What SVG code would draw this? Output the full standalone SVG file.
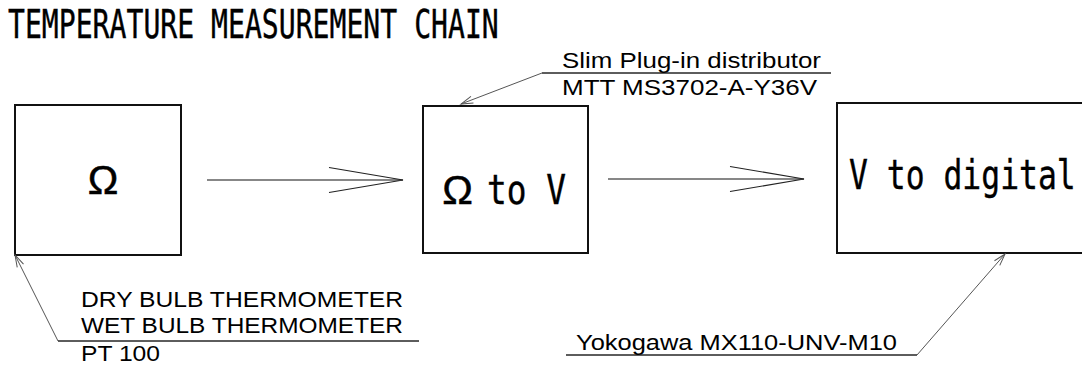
<svg xmlns="http://www.w3.org/2000/svg" width="1082" height="367" viewBox="0 0 1082 367">
<style>
.box{fill:#fff;stroke:#111;stroke-width:2}
.flow{stroke:#111;stroke-width:1.2;fill:none}
.lead{stroke:#555;stroke-width:1;fill:none}
.uline{stroke:#111;stroke-width:1.2}
.mono{font-family:"DejaVu Sans Mono","Liberation Mono",monospace;fill:#000;stroke:#000;stroke-width:0.4}
.sans{font-family:"Liberation Sans",Arial,sans-serif;fill:#000;stroke:#000;stroke-width:0.5}
.lbl{font-family:"Liberation Sans",Arial,sans-serif;font-size:22px;fill:#000}
</style>
<defs>
<marker id="big" markerUnits="userSpaceOnUse" markerWidth="80" markerHeight="30" refX="74" refY="12.5" orient="auto" overflow="visible">
<path d="M0,0 L74,12.5 L0,25" fill="none" stroke="#222" stroke-width="1.2"/>
</marker>
<marker id="small" markerUnits="userSpaceOnUse" markerWidth="14" markerHeight="8" refX="12" refY="4" orient="auto" overflow="visible">
<path d="M0,0.5 L12,4 L0,7.5" fill="none" stroke="#555" stroke-width="1"/>
</marker>
</defs>
<text class="mono" transform="translate(8,38) scale(0.721,1)" x="0" y="0" font-size="39">TEMPERATURE MEASUREMENT CHAIN</text>
<g id="node-ohm">
<rect class="box" x="15" y="105" width="166" height="150"/>
<text class="sans" x="103" y="194" font-size="41" text-anchor="middle">Ω</text>
</g>
<g id="node-ohm-to-v">
<rect class="box" x="423" y="106" width="165" height="147"/>
<text class="sans" x="457.5" y="204" font-size="41" text-anchor="middle">Ω</text>
<text class="mono" x="487" y="204" font-size="40" textLength="79" lengthAdjust="spacingAndGlyphs">to V</text>
</g>
<g id="node-v-to-digital">
<rect class="box" x="837" y="103" width="260" height="150"/>
<text class="mono" transform="translate(849,189) scale(0.785,1)" x="0" y="0" font-size="40">V to digital</text>
</g>
<g id="connectors">
<line class="flow" x1="207" y1="180" x2="403" y2="180" marker-end="url(#big)"/>
<line class="flow" x1="608" y1="179" x2="804" y2="179" marker-end="url(#big)"/>
<polyline class="lead" points="419,341 58,341 15,255" marker-end="url(#small)"/>
<polyline class="lead" points="831,73 542,73 461,104" marker-end="url(#small)"/>
<polyline class="lead" points="566,355 917,355 1005,254" marker-end="url(#small)"/>
<line class="uline" x1="58" y1="341" x2="419" y2="341"/>
<line class="uline" x1="542" y1="73" x2="831" y2="73"/>
<line class="uline" x1="566" y1="355" x2="917" y2="355"/>
</g>
<g id="label-distributor">
<text class="lbl" x="562" y="68" textLength="259" lengthAdjust="spacingAndGlyphs">Slim Plug-in distributor</text>
<text class="lbl" x="562" y="95" textLength="255" lengthAdjust="spacingAndGlyphs">MTT MS3702-A-Y36V</text>
</g>
<g id="label-thermometer">
<text class="lbl" x="81" y="307" textLength="322" lengthAdjust="spacingAndGlyphs">DRY BULB THERMOMETER</text>
<text class="lbl" x="81" y="333" textLength="322" lengthAdjust="spacingAndGlyphs">WET BULB THERMOMETER</text>
<text class="lbl" x="81" y="361" textLength="79" lengthAdjust="spacingAndGlyphs">PT 100</text>
</g>
<g id="label-yokogawa">
<text class="lbl" x="576" y="350" textLength="321" lengthAdjust="spacingAndGlyphs">Yokogawa MX110-UNV-M10</text>
</g>
</svg>
